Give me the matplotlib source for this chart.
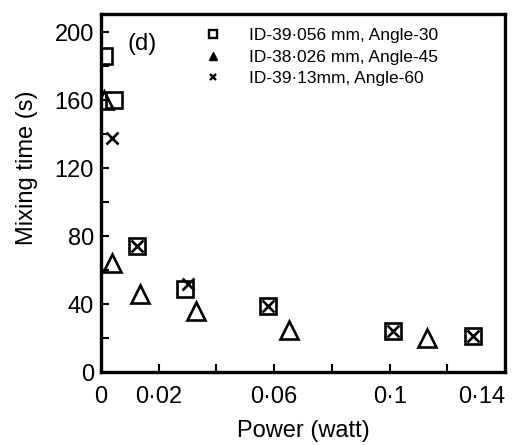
import matplotlib

matplotlib.use("Agg")
import matplotlib.pyplot as plt
from matplotlib.lines import Line2D

plt.rcParams["font.family"] = ["Liberation Sans", "DejaVu Sans"]

# series (power in watt, mixing time in s)
p_30 = [0.001, 0.0045, 0.0125, 0.029, 0.058, 0.101, 0.129]
t_30 = [186, 160, 74, 49, 39, 24, 21]

p_45 = [0.001, 0.004, 0.0135, 0.033, 0.065, 0.113]
t_45 = [160, 64, 46, 36, 25, 20]

p_60 = [0.004, 0.0125, 0.030, 0.058, 0.101, 0.129]
t_60 = [138, 74, 52, 39, 24, 21]

labels = ["ID-39·056 mm, Angle-30", "ID-38·026 mm, Angle-45",
          "ID-39·13mm, Angle-60"]

x_ticks = [0, 0.02, 0.04, 0.06, 0.08, 0.1, 0.12, 0.14]
x_ticklabels = ["0", "0·02", "", "0·06", "", "0·1", "", "0·14"]
y_ticks = [0, 40, 80, 120, 160, 200]

fig = plt.figure(figsize=(5.23, 4.45), dpi=100)
ax = fig.add_axes([0.193, 0.164, 0.773, 0.805])

ax.plot(p_30, t_30, ls="none", marker="s", ms=12, mfc="none", mec="black", mew=1.9)
ax.plot(p_45, t_45, ls="none", marker="^", ms=13, mfc="none", mec="black", mew=1.9)
ax.plot(p_60, t_60, ls="none", marker="x", ms=9, color="black", mew=1.9)

ax.set_xlim(0, 0.14)
ax.set_ylim(0, 211)
ax.set_xticks(x_ticks)
ax.set_xticklabels(x_ticklabels)
ax.get_xticklabels()[-1].set_horizontalalignment("right")
ax.set_yticks(y_ticks)
ax.set_yticks(range(20, 211, 40), minor=True)
ax.tick_params(which="both", direction="in", width=1.5, length=6, labelsize=17)
ax.tick_params(axis="x", pad=10)
ax.tick_params(axis="y", pad=5)
for s in ax.spines.values():
    s.set_linewidth(2.4)

ax.set_xlabel("Power (watt)", fontsize=17, labelpad=9)
ax.set_ylabel("Mixing time (s)", fontsize=17)
ax.yaxis.set_label_coords(-0.155, 0.57)

ax.text(0.065, 0.915, "(d)", transform=ax.transAxes, fontsize=17,
        ha="left", va="center")

handles = [
    Line2D([], [], ls="none", marker="s", ms=6, mfc="none", mec="black", mew=1.7),
    Line2D([], [], ls="none", marker="^", ms=6, color="black"),
    Line2D([], [], ls="none", marker="x", ms=5, color="black", mew=1.7),
]
ax.legend(handles, labels, loc="upper left", bbox_to_anchor=(0.225, 0.995),
          frameon=False, fontsize=12.5, handlelength=1.0, handletextpad=1.6,
          labelspacing=0.38, borderaxespad=0.3)

fig.savefig("out.png", dpi=100, facecolor="white")
